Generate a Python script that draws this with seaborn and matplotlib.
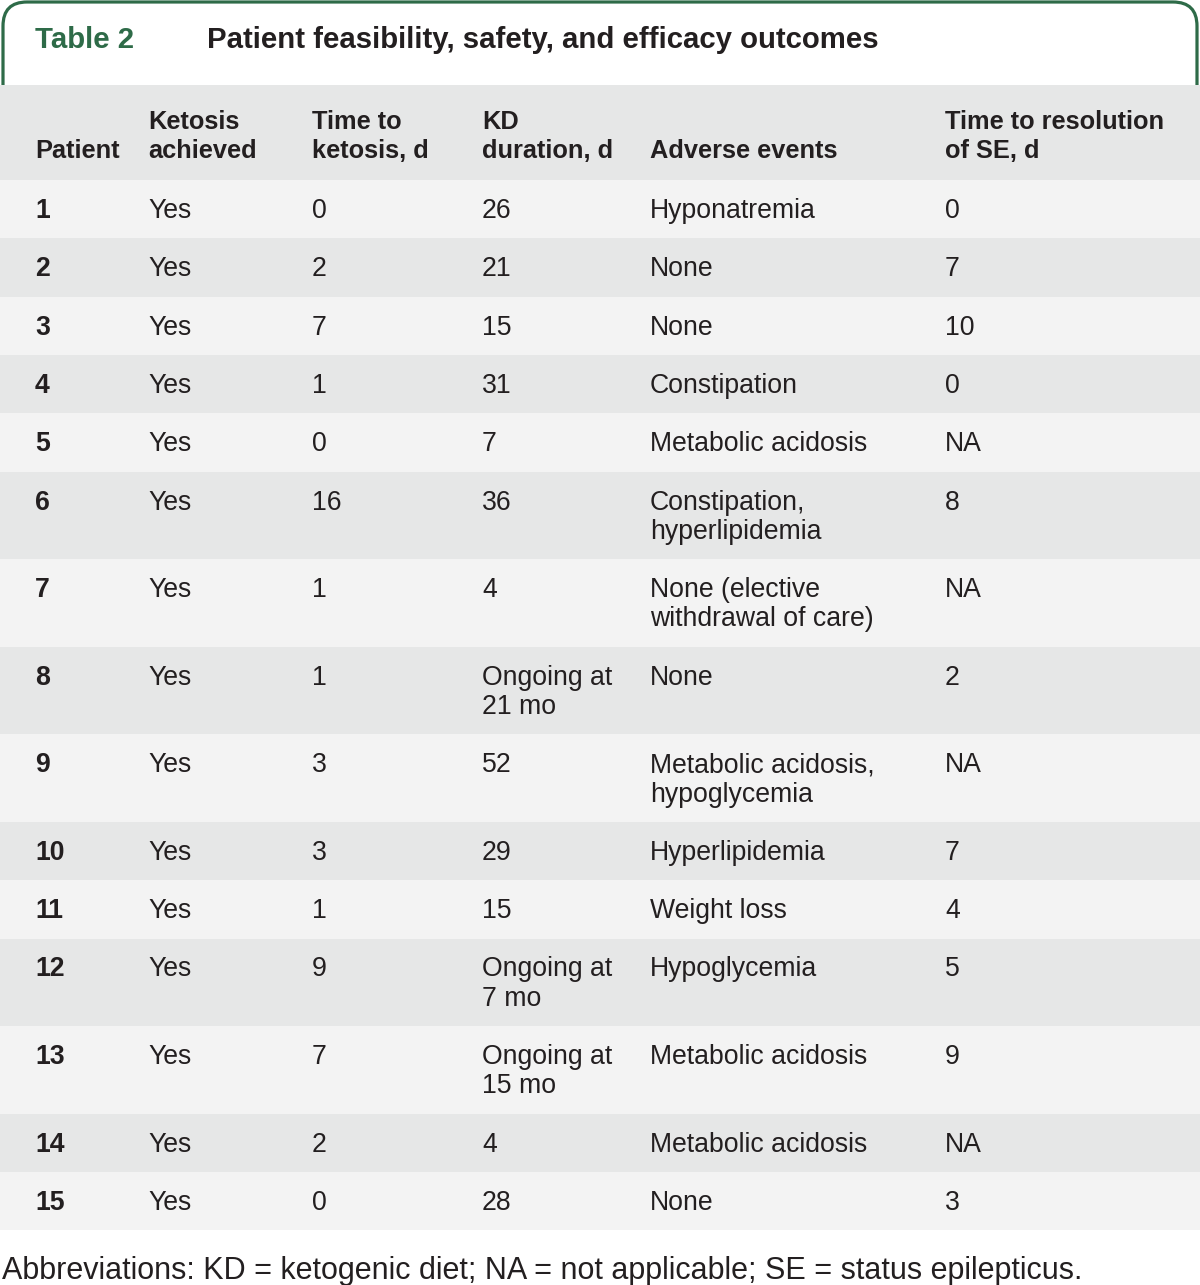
import numpy as np
import pandas as pd
import matplotlib
matplotlib.use("Agg")
import matplotlib.pyplot as plt
import seaborn as sns
from matplotlib.patches import FancyBboxPatch

# table content
patients = ["1", "2", "3", "4", "5", "6", "7", "8", "9", "10", "11", "12", "13", "14", "15"]
ketosis = ["Yes"] * 15
time_to_ketosis = ["0", "2", "7", "1", "0", "16", "1", "1", "3", "3", "1", "9", "7", "2", "0"]
kd_duration = ["26", "21", "15", "31", "7", "36", "4", "Ongoing at\n21 mo", "52", "29", "15",
               "Ongoing at\n7 mo", "Ongoing at\n15 mo", "4", "28"]
adverse_events = ["Hyponatremia", "None", "None", "Constipation", "Metabolic acidosis",
                  "Constipation,\nhyperlipidemia", "None (elective\nwithdrawal of care)", "None",
                  "Metabolic acidosis,\nhypoglycemia", "Hyperlipidemia", "Weight loss", "Hypoglycemia",
                  "Metabolic acidosis", "Metabolic acidosis", "None"]
resolution = ["0", "7", "10", "0", "NA", "8", "NA", "2", "NA", "7", "4", "5", "9", "NA", "3"]

headers = ["Patient", "Ketosis\nachieved", "Time to\nketosis, d", "KD\nduration, d",
           "Adverse events", "Time to resolution\nof SE, d"]
title_label = "Table 2"
title_text = "Patient feasibility, safety, and efficacy outcomes"
footnote = "Abbreviations: KD = ketogenic diet; NA = not applicable; SE = status epilepticus."

df = pd.DataFrame({
    "Patient": patients,
    "Ketosis achieved": ketosis,
    "Time to ketosis, d": time_to_ketosis,
    "KD duration, d": kd_duration,
    "Adverse events": adverse_events,
    "Time to resolution of SE, d": resolution,
})

# layout (pixels)
W, H = 1200, 1285
col_x = [35, 148, 312, 482, 650, 945]
header_top, header_h = 85, 95
line_gap = 29.3
pad = 29.0
GREEN = "#2e6b48"
TEXT = "#231f20"
LIGHT = "#f3f3f3"
DARK = "#e6e7e7"
FS = 19.2
FS_HEAD = 18.3
FS_TITLE = 21.2

sns.set_theme(style="white")
plt.rcParams["font.family"] = ["Liberation Sans", "DejaVu Sans"]

fig = plt.figure(figsize=(W / 100, H / 100), dpi=100)
ax = fig.add_axes([0, 0, 1, 1])
ax.set_xlim(0, W)
ax.set_ylim(H, 0)
ax.axis("off")

# title tab
tab = FancyBboxPatch((3, 2), W - 6, 140, boxstyle="round,pad=0,rounding_size=24",
                     facecolor="white", edgecolor=GREEN, linewidth=2.3, zorder=1)
ax.add_patch(tab)
ax.text(col_x[0], 40, title_label, color=GREEN, fontsize=FS_TITLE, fontweight="bold",
        va="center", ha="left", zorder=5)
ax.text(207, 40, title_text, color=TEXT, fontsize=FS_TITLE, fontweight="bold",
        va="center", ha="left", zorder=5)

# row geometry from number of lines
n_lines = df.apply(lambda r: max(str(v).count("\n") + 1 for v in r), axis=1).to_numpy()
row_h = pad + line_gap * n_lines
row_top = header_top + header_h + np.concatenate([[0], np.cumsum(row_h)[:-1]])
row_colors = [LIGHT if i % 2 == 0 else DARK for i in range(len(df))]

# backgrounds
ax.barh([header_top + header_h / 2], [W], height=[header_h], left=0, color=DARK,
        linewidth=0, zorder=2)
ax.barh(row_top + row_h / 2, [W] * len(df), height=row_h, left=0, color=row_colors,
        linewidth=0, zorder=2)

# header
for x, h in zip(col_x, headers):
    lines = h.split("\n")
    base = header_top + header_h - 29 - line_gap * (len(lines) - 1)
    for k, ln in enumerate(lines):
        ax.text(x, base + k * line_gap, ln, color=TEXT, fontsize=FS_HEAD, fontweight="bold",
                va="center", ha="left", zorder=5)

# body
for i, row in enumerate(df.itertuples(index=False)):
    for j, (x, val) in enumerate(zip(col_x, row)):
        for k, ln in enumerate(str(val).split("\n")):
            ax.text(x, row_top[i] + 31 + k * line_gap, ln, color=TEXT, fontsize=FS,
                    fontweight="bold" if j == 0 else "normal",
                    va="center", ha="left", zorder=5)

# footnote
ax.text(2, row_top[-1] + row_h[-1] + 41, footnote, color=TEXT, fontsize=22,
        va="center", ha="left", zorder=5)

fig.savefig("out.png", dpi=100)
plt.close(fig)
